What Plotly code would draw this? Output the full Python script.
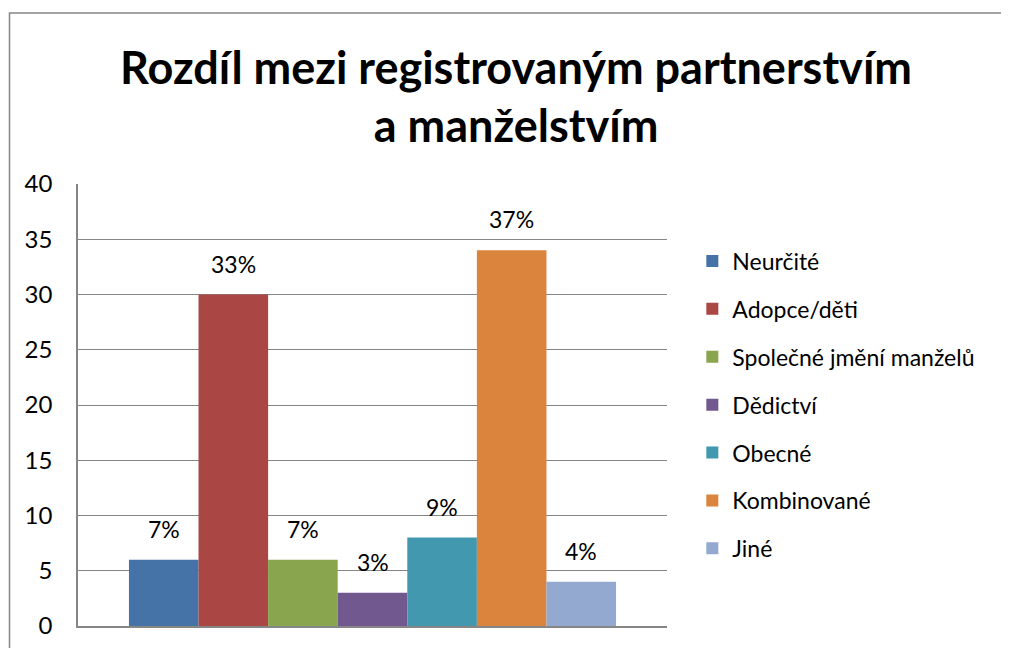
import plotly.graph_objects as go

categories = ["Neurčité", "Adopce/děti", "Společné jmění manželů", "Dědictví",
              "Obecné", "Kombinované", "Jiné"]
values = [6, 30, 6, 3, 8, 34, 4]
pct_labels = ["7%", "33%", "7%", "3%", "9%", "37%", "4%"]
colors = ["#4572A7", "#AA4643", "#89A54E", "#71588F", "#4198AF", "#DB843D", "#93A9CF"]
y_ticks = [0, 5, 10, 15, 20, 25, 30, 35, 40]

FONT = "Lato"

fig = go.Figure()
for i, (name, v, c) in enumerate(zip(categories, values, colors)):
    fig.add_trace(go.Bar(
        x=[""], y=[v], name=name, marker=dict(color=c, line=dict(width=0)),
        legendgroup=f"g{i}", hoverinfo="skip",
    ))

group_frac = 0.827
bar_w = group_frac / len(categories)
for i, (v, lab) in enumerate(zip(values, pct_labels)):
    xc = -group_frac / 2 + bar_w * (i + 0.5)
    fig.add_annotation(x=xc, y=v, xref="x", yref="y", text=lab, showarrow=False,
                       yshift=31, font=dict(family=FONT, size=23, color="#000000"))

fig.update_layout(
    width=1009, height=648,
    margin=dict(l=70, r=350, t=176, b=30, autoexpand=False),
    paper_bgcolor="white", plot_bgcolor="white",
    barmode="group", bargap=1 - group_frac, bargroupgap=0,
    title=dict(text="<b>Rozdíl mezi registrovaným partnerstvím<br>a manželstvím</b>",
               x=0.5035, xanchor="center", y=0.883, yanchor="middle",
               font=dict(family=FONT, size=45, color="#000000")),
    font=dict(family=FONT, size=23, color="#000000"),
    legend=dict(x=1.043, xanchor="left", y=0.5, yanchor="middle",
                font=dict(family=FONT, size=23), tracegroupgap=15,
                bgcolor="rgba(0,0,0,0)"),
    showlegend=True,
)
fig.update_xaxes(type="category", range=[-0.5, 0.5], showticklabels=False,
                 showgrid=False, showline=True, linecolor="#868686", linewidth=1.5,
                 ticks="", zeroline=False)
fig.update_yaxes(range=[0, 40], tickvals=y_ticks, showgrid=True, gridcolor="#868686",
                 gridwidth=1, showline=True, linecolor="#868686", linewidth=1.5,
                 ticks="", ticklabelstandoff=19, zeroline=False,
                 tickfont=dict(family=FONT, size=24, color="#000000"))

# outer chart border
fig.add_shape(type="rect", xref="paper", yref="paper",
              x0=(9.5 - 78) / 589, x1=(1008 - 78) / 589,
              y0=-0.2, y1=(626 - 13) / 442,
              line=dict(color="#868686", width=1.5), fillcolor="rgba(0,0,0,0)",
              layer="below")

fig.write_html("out.html")
